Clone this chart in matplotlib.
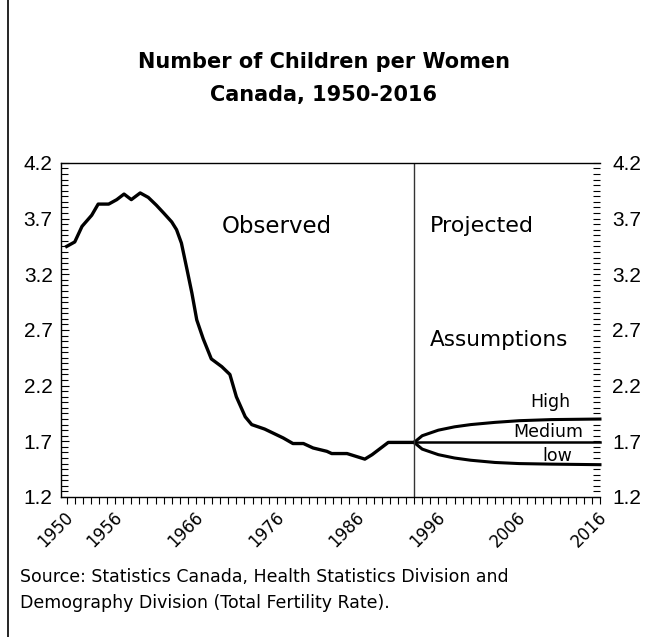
import matplotlib
matplotlib.use('Agg')
import matplotlib.pyplot as plt
import matplotlib.transforms as mtransforms
from matplotlib.ticker import MultipleLocator, FixedLocator
from matplotlib.lines import Line2D

# ========== data ==========
obs_years = [1950.0, 1951.0, 1951.9, 1953.1, 1953.9, 1955.2, 1956.2, 1957.1, 1958.0,
             1959.1, 1960.1, 1961.1, 1962.0, 1963.0, 1963.6, 1964.2, 1964.9, 1965.5,
             1966.1, 1966.9, 1967.9, 1969.2, 1970.2, 1971.0, 1972.1, 1972.9, 1974.5,
             1976.8, 1978.0, 1979.3, 1980.5, 1982.2, 1982.8, 1984.7, 1986.9, 1987.8,
             1989.8, 1993.0]
obs_tfr = [3.45, 3.49, 3.63, 3.73, 3.83, 3.83, 3.87, 3.92, 3.87,
           3.93, 3.89, 3.82, 3.75, 3.67, 3.60, 3.48, 3.24, 3.03,
           2.79, 2.62, 2.44, 2.37, 2.30, 2.10, 1.92, 1.85, 1.81,
           1.73, 1.68, 1.68, 1.64, 1.61, 1.59, 1.59, 1.54, 1.58,
           1.69, 1.69]

proj_years = [1993, 1994, 1996, 1998, 2000, 2003, 2006, 2010, 2016]
proj_high = [1.69, 1.75, 1.80, 1.83, 1.85, 1.87, 1.885, 1.895, 1.90]
proj_medium = [1.69, 1.69, 1.69, 1.69, 1.69, 1.69, 1.69, 1.69, 1.69]
proj_low = [1.69, 1.63, 1.58, 1.55, 1.53, 1.51, 1.50, 1.495, 1.49]

split_year = 1993
x_tick_years = [1950, 1956, 1966, 1976, 1986, 1996, 2006, 2016]
x_tick_labels = ['1950', '1956', '1966', '1976', '1986', '1996', '2006', '2016']
y_ticks = [1.2, 1.7, 2.2, 2.7, 3.2, 3.7, 4.2]

plt.rcParams['font.family'] = ['DejaVu Sans']

# ========== figure ==========
fig = plt.figure(figsize=(6.47, 6.37), dpi=100)
ax = fig.add_axes([0.0943, 0.2198, 0.8330, 0.5245])

ax.plot(obs_years, obs_tfr, color='black', lw=2.4, solid_joinstyle='round')
ax.plot(proj_years, proj_high, color='black', lw=2.2, clip_on=False)
ax.plot(proj_years, proj_medium, color='black', lw=1.8, clip_on=False)
ax.plot(proj_years, proj_low, color='black', lw=2.2, clip_on=False)
ax.axvline(split_year, color='#333333', lw=1.0)

ax.set_xlim(1949.3, 2016)
ax.set_ylim(1.2, 4.2)

ax.spines['right'].set_visible(False)
for s in ['left', 'top', 'bottom']:
    ax.spines[s].set_linewidth(1.0)

ax.set_yticks(y_ticks)
ax.set_yticklabels([f'{v:.1f}' for v in y_ticks])
ax.yaxis.set_minor_locator(MultipleLocator(0.05))
ax.tick_params(axis='y', which='both', direction='in', length=5, width=0.8,
               labelsize=15, pad=6)
ax.tick_params(axis='y', which='major', length=6)

ax.xaxis.set_major_locator(FixedLocator(x_tick_years))
ax.set_xticklabels(x_tick_labels, rotation=45, ha='right', va='center',
                   rotation_mode='anchor')
ax.xaxis.set_minor_locator(MultipleLocator(1))
ax.tick_params(axis='x', which='both', direction='out', length=5, width=0.8,
               labelsize=12, pad=8)
shift = mtransforms.ScaledTranslation(3 / 72, 0, fig.dpi_scale_trans)
for lab in ax.get_xticklabels():
    lab.set_transform(lab.get_transform() + shift)

# right side: ticks + labels, no spine
ax2 = ax.twinx()
ax2.set_ylim(1.2, 4.2)
ax2.set_yticks(y_ticks)
ax2.set_yticklabels([f'{v:.1f}' for v in y_ticks])
ax2.yaxis.set_minor_locator(MultipleLocator(0.05))
ax2.tick_params(axis='y', which='both', direction='in', length=5, width=0.8,
                labelsize=15, pad=9)
for s in ['left', 'right', 'top', 'bottom']:
    ax2.spines[s].set_visible(False)

for lab in ax.get_yticklabels() + ax2.get_yticklabels():
    lab.set_fontfamily('Liberation Sans')

# ========== text ==========
fig.text(0.5, 0.903, 'Number of Children per Women', ha='center', va='center',
         fontsize=15, fontweight='bold')
fig.text(0.5, 0.851, 'Canada, 1950-2016', ha='center', va='center',
         fontsize=15, fontweight='bold')

ax.text(1969.2, 3.63, 'Observed', fontsize=16.5, va='center')
ax.text(1995.0, 3.63, 'Projected', fontsize=16, va='center')
ax.text(1995.0, 2.61, 'Assumptions', fontsize=15.5, va='center')
ax.text(2012.4, 2.05, 'High', fontsize=12.5, ha='right', va='center')
ax.text(2013.9, 1.78, 'Medium', fontsize=12.5, ha='right', va='center')
ax.text(2012.6, 1.57, 'low', fontsize=12.5, ha='right', va='center')

fig.text(0.031, 0.094, 'Source: Statistics Canada, Health Statistics Division and',
         fontsize=12.5, va='center')
fig.text(0.031, 0.053, 'Demography Division (Total Fertility Rate).',
         fontsize=12.5, va='center')

# left edge of the outer frame
fig.lines.append(Line2D([0.012, 0.012], [0.0, 1.0], transform=fig.transFigure,
                        color='black', lw=1.2))

fig.savefig('out.png', dpi=100)
